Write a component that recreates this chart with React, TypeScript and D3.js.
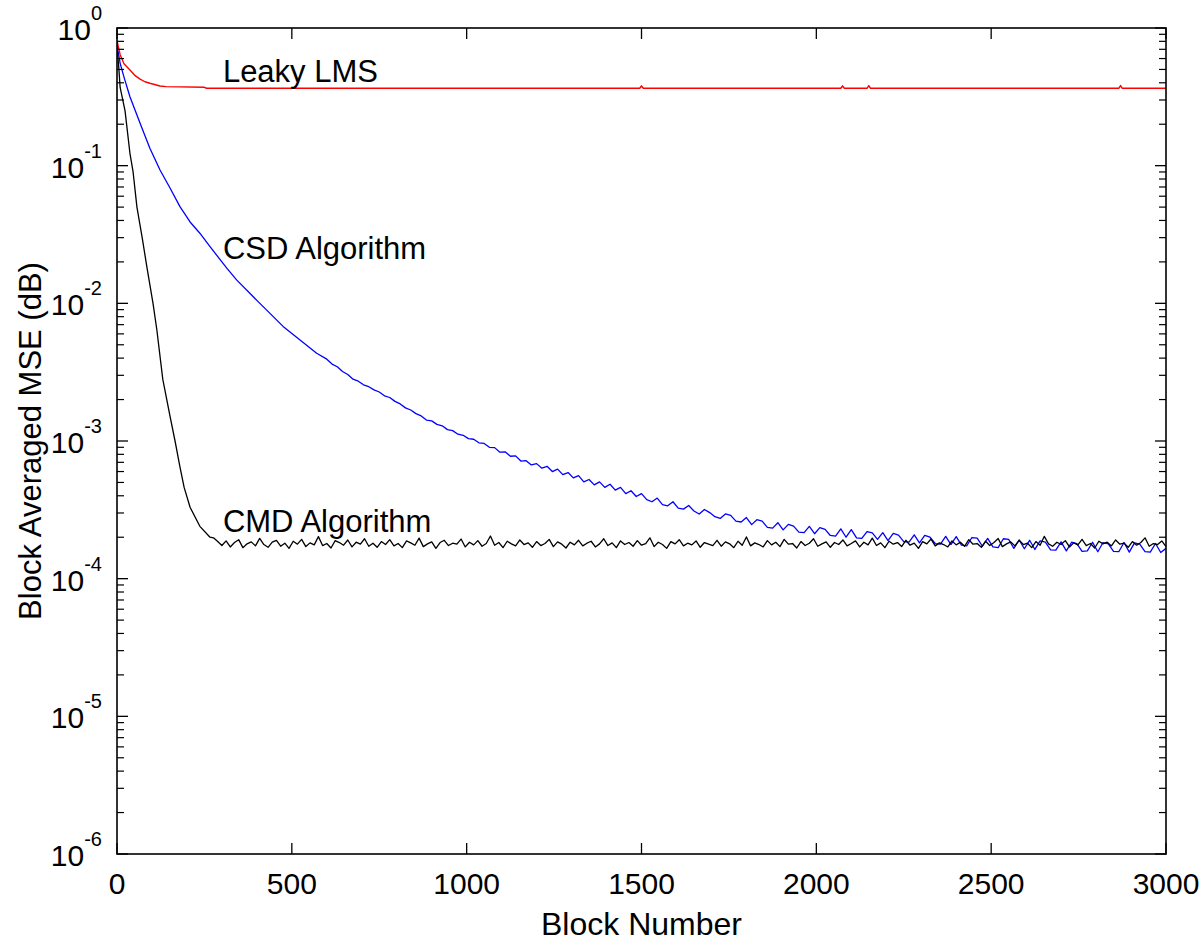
import React from "react";
import * as d3 from "d3";

// ---------- data ----------
const X_TICKS = [0, 500, 1000, 1500, 2000, 2500, 3000];
const Y_DECADES = [-6, -5, -4, -3, -2, -1, 0];
const UNIT_E4 = 1e-4;

// Leaky LMS (red)
const RED_BLOCKS = [0, 9, 20, 37, 50, 66, 80, 94, 110, 123, 140, 250, 256, 1495, 1500, 1505, 2070, 2075, 2080, 2145, 2150, 2155, 2865, 2870, 2875, 3000];
const RED_MSE = [0.81, 0.64, 0.55, 0.495, 0.455, 0.425, 0.407, 0.397, 0.387, 0.379, 0.375, 0.371, 0.365, 0.365, 0.38, 0.365, 0.365, 0.38, 0.365, 0.365, 0.382, 0.365, 0.365, 0.382, 0.365, 0.365];

// CSD algorithm (blue) – early smooth part
const BLUE_EARLY_BLOCKS = [0, 9, 20, 37, 66, 94, 123, 152, 180, 209, 237, 266, 314, 342, 400, 475, 571];
const BLUE_EARLY_MSE = [0.753, 0.554, 0.44, 0.317, 0.203, 0.134, 0.093, 0.0685, 0.0504, 0.039, 0.0323, 0.0258, 0.018, 0.0148, 0.0105, 0.0068, 0.00434];
// CSD later part, every 15 blocks from 600, values x1e-4
const BLUE_LATE_START = 600;
const BLUE_LATE_STEP = 15;
const BLUE_LATE_E4 = [
  39.3, 36.2, 34.6, 32.0, 30.4, 28.1, 27.2, 25.6, 24.8, 23.5, 22.7, 21.3, 20.7, 19.4, 18.6, 17.4, 16.8, 15.8, 15.2, 14.2,
  14.0, 13.2, 12.9, 12.1, 11.9, 11.2, 11.0, 10.4, 10.3, 9.7, 9.6, 9.0, 8.95, 8.3, 8.35, 7.75, 7.8, 7.15, 7.2, 6.7,
  6.85, 6.35, 6.55, 6.0, 6.25, 5.7, 5.9, 5.4, 5.6, 5.05, 5.25, 4.8, 5.05, 4.6, 4.85, 4.4, 4.6, 4.15, 4.35, 3.95,
  4.15, 3.75, 3.62, 3.85, 3.45, 3.38, 3.62, 3.25, 3.2, 3.4, 3.1, 2.95, 3.18, 3.02, 2.82, 2.74, 2.95, 2.88, 2.62, 2.58,
  2.78, 2.47, 2.68, 2.62, 2.36, 2.33, 2.55, 2.26, 2.48, 2.41, 2.18, 2.16, 2.4, 2.12, 2.35, 2.28, 2.06, 2.04, 2.3, 2.0,
  2.27, 1.98, 1.96, 2.2, 2.15, 1.93, 2.16, 1.89, 2.13, 2.07, 1.86, 1.84, 2.08, 1.82, 2.06, 2.0, 1.8, 1.78, 2.03, 1.77,
  2.02, 1.75, 1.73, 1.99, 1.97, 1.72, 1.96, 1.70, 1.68, 1.95, 1.93, 1.66, 1.91, 1.65, 1.9, 1.63, 1.88, 1.84, 1.62, 1.61,
  1.85, 1.59, 1.84, 1.80, 1.58, 1.59, 1.84, 1.57, 1.83, 1.79, 1.58, 1.57, 1.83, 1.56, 1.82, 1.78, 1.57, 1.56, 1.80, 1.55,
  1.66,
];

// CMD algorithm (black) – early fast decay
const BLACK_EARLY_BLOCKS = [0, 5, 9, 23, 37, 46, 57, 72, 86, 103, 114, 131, 152, 166, 180, 192, 209, 237, 266];
const BLACK_EARLY_MSE = [0.72, 0.52, 0.37, 0.25, 0.123, 0.09, 0.05, 0.03, 0.018, 0.01, 0.0064, 0.0028, 0.0015, 0.001, 6.5e-4, 4.6e-4, 3.3e-4, 2.4e-4, 2.0e-4];
// CMD noise floor, every 12 blocks from 276, values x1e-4
const BLACK_FLOOR_START = 276;
const BLACK_FLOOR_STEP = 12;
const BLACK_FLOOR_E4 = [
  1.98, 1.86, 1.74, 1.88, 1.70, 1.83, 1.92, 1.68, 1.79, 1.85, 1.73, 1.96, 1.77, 1.69, 1.84, 1.90, 1.72, 1.81, 1.66, 1.87,
  1.78, 1.93, 1.71, 1.82, 1.76, 2.02, 1.74, 1.80, 1.67, 1.89, 1.83, 1.75, 1.91, 1.70, 1.84, 1.78, 1.95, 1.72, 1.81, 1.69,
  1.86, 1.77, 1.92, 1.73, 1.80, 1.68, 1.88, 1.82, 1.75, 1.97, 1.71, 1.79, 1.85, 1.66, 1.83, 1.90, 1.74, 1.81, 1.78, 1.94,
  1.70, 1.84, 1.76, 1.89, 1.72, 1.80, 2.04, 1.75, 1.83, 1.68, 1.87, 1.79, 1.73, 1.91, 1.77, 1.82, 1.69, 1.86, 1.74, 1.80,
  1.93, 1.71, 1.85, 1.78, 1.67, 1.84, 1.76, 1.90, 1.73, 1.81, 1.87, 1.70, 1.79, 1.95, 1.74, 1.82, 1.68, 1.88, 1.77, 1.83,
  1.72, 1.89, 1.75, 1.80, 1.98, 1.71, 1.84, 1.77, 1.66, 1.86, 1.79, 1.92, 1.73, 1.81, 1.76, 1.88, 1.69, 1.83, 1.78, 1.74,
  1.90, 1.72, 1.85, 1.79, 1.68, 1.87, 1.75, 2.01, 1.73, 1.82, 1.77, 1.70, 1.89, 1.76, 1.84, 1.71, 1.93, 1.78, 1.80, 1.67,
  1.86, 1.74, 1.81, 1.95, 1.72, 1.79, 1.85, 1.69, 1.83, 1.77, 1.91, 1.73, 1.80, 1.88, 1.70, 1.84, 1.76, 1.97, 1.74, 1.82,
  1.68, 1.87, 1.78, 1.83, 1.71, 1.90, 1.75, 1.81, 1.66, 1.86, 1.79, 1.94, 1.73, 1.82, 1.77, 1.70, 1.88, 1.76, 1.84, 1.72,
  1.92, 1.78, 1.80, 1.69, 1.87, 1.74, 1.83, 1.96, 1.71, 1.79, 1.85, 1.73, 1.90, 1.77, 1.81, 1.68, 1.86, 1.75, 2.03, 1.79,
  1.72, 1.84, 1.77, 1.89, 1.70, 1.82, 1.76, 1.93, 1.74, 1.80, 1.67, 1.87, 1.79, 1.84, 1.73, 1.91, 1.78, 1.81, 1.69, 1.86,
  1.75, 1.83, 1.98, 1.72, 1.80, 1.77, 1.88, 1.71,
];

const LABELS = [
  { text: "Leaky LMS", block: 300, mse: 0.405 },
  { text: "CSD Algorithm", block: 300, mse: 0.021 },
  { text: "CMD Algorithm", block: 300, mse: 2.2e-4 },
];

// ---------- layout ----------
const W = 1200;
const H = 942;
const M = { left: 117, right: 1166, top: 28, bottom: 854 };
const FONT = "'Liberation Sans', Arial, Helvetica, sans-serif";

type Pt = [number, number];

export default function App() {
  const x = d3.scaleLinear().domain([0, 3000]).range([M.left, M.right]);
  const y = d3.scaleLog().domain([1e-6, 1]).range([M.bottom, M.top]);

  const red: Pt[] = RED_BLOCKS.map((b, i) => [b, RED_MSE[i]]);
  const blue: Pt[] = [
    ...BLUE_EARLY_BLOCKS.map((b, i) => [b, BLUE_EARLY_MSE[i]] as Pt),
    ...BLUE_LATE_E4.map((v, i) => [BLUE_LATE_START + i * BLUE_LATE_STEP, v * UNIT_E4] as Pt),
  ];
  const black: Pt[] = [
    ...BLACK_EARLY_MSE.map((v, i) => [BLACK_EARLY_BLOCKS[i], v] as Pt),
    ...BLACK_FLOOR_E4.map((v, i) => [BLACK_FLOOR_START + i * BLACK_FLOOR_STEP, v * UNIT_E4] as Pt),
  ];

  const line = d3
    .line<Pt>()
    .x((d) => x(d[0]))
    .y((d) => y(d[1]));

  const minorTicks: number[] = [];
  for (let e = -6; e < 0; e++) {
    for (let k = 2; k <= 9; k++) minorTicks.push(k * Math.pow(10, e));
  }

  const MAJ = 11;
  const MIN = 7;

  return (
    <div style={{ position: "absolute", left: 0, top: 0 }}>
      <svg width={W} height={H} style={{ display: "block", background: "#fff" }} fontFamily={FONT}>
        <rect x={0} y={0} width={W} height={H} fill="#fff" />
        <defs>
          <clipPath id="plot">
            <rect x={M.left} y={M.top} width={M.right - M.left} height={M.bottom - M.top} />
          </clipPath>
        </defs>

        {/* data lines */}
        <g clipPath="url(#plot)" fill="none" strokeLinejoin="round">
          <path d={line(blue) || ""} stroke="#0000ff" strokeWidth={1.3} />
          <path d={line(black) || ""} stroke="#000000" strokeWidth={1.3} />
          <path d={line(red) || ""} stroke="#ff0000" strokeWidth={1.4} />
        </g>

        {/* frame */}
        <rect
          x={M.left}
          y={M.top}
          width={M.right - M.left}
          height={M.bottom - M.top}
          fill="none"
          stroke="#000"
          strokeWidth={1.6}
        />

        {/* x ticks */}
        {X_TICKS.map((t) => (
          <g key={"xt" + t}>
            <line x1={x(t)} x2={x(t)} y1={M.bottom} y2={M.bottom - MAJ} stroke="#000" strokeWidth={1.3} />
            <line x1={x(t)} x2={x(t)} y1={M.top} y2={M.top + MAJ} stroke="#000" strokeWidth={1.3} />
            <text x={x(t)} y={894} textAnchor="middle" fontSize={30} fill="#000">
              {t}
            </text>
          </g>
        ))}

        {/* y major ticks + labels */}
        {Y_DECADES.map((e) => {
          const yy = y(Math.pow(10, e));
          return (
            <g key={"yt" + e}>
              <line x1={M.left} x2={M.left + MAJ} y1={yy} y2={yy} stroke="#000" strokeWidth={1.3} />
              <line x1={M.right} x2={M.right - MAJ} y1={yy} y2={yy} stroke="#000" strokeWidth={1.3} />
              <text x={102} y={yy + 12} textAnchor="end" fontSize={30} fill="#000">
                10
                <tspan dy={-20} fontSize={20}>
                  {String(e)}
                </tspan>
              </text>
            </g>
          );
        })}

        {/* y minor ticks */}
        {minorTicks.map((v, i) => (
          <g key={"ym" + i}>
            <line x1={M.left} x2={M.left + MIN} y1={y(v)} y2={y(v)} stroke="#000" strokeWidth={1.2} />
            <line x1={M.right} x2={M.right - MIN} y1={y(v)} y2={y(v)} stroke="#000" strokeWidth={1.2} />
          </g>
        ))}

        {/* annotations */}
        {LABELS.map((l) => (
          <text key={l.text} x={x(l.block) + 1} y={y(l.mse)} fontSize={31} fill="#000">
            {l.text}
          </text>
        ))}

        {/* axis titles */}
        <text x={(M.left + M.right) / 2} y={935} textAnchor="middle" fontSize={32} fill="#000">
          Block Number
        </text>
        <text
          transform={`translate(41, ${(M.top + M.bottom) / 2}) rotate(-90)`}
          textAnchor="middle"
          fontSize={31}
          fill="#000"
        >
          Block Averaged MSE (dB)
        </text>
      </svg>
    </div>
  );
}
